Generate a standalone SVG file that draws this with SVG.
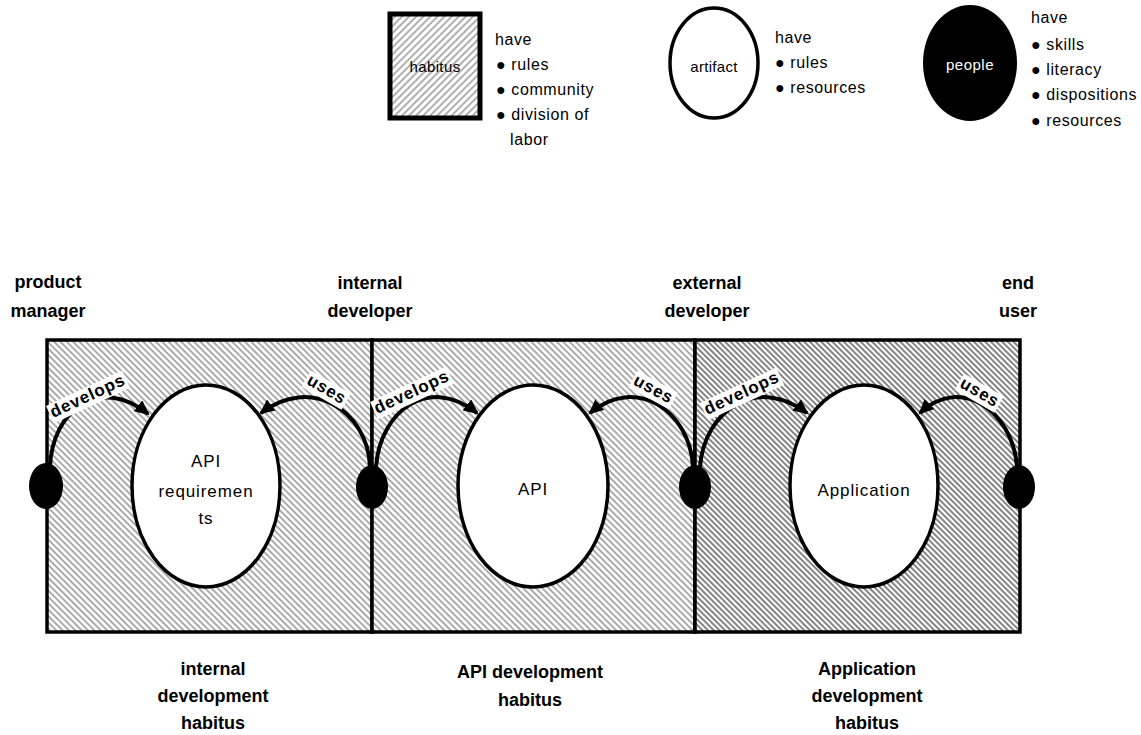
<svg xmlns="http://www.w3.org/2000/svg" width="1141" height="735" viewBox="0 0 1141 735">
  <defs>
    <style>
      text { font-family: "Liberation Sans", Arial, sans-serif; fill: #000; }
      .lbl { font-size: 18px; font-weight: bold; text-anchor: middle; }
      .leg { font-size: 16px; letter-spacing: 0.6px; }
      .art { font-size: 17px; letter-spacing: 0.9px; text-anchor: middle; }
      .rel { font-size: 17px; font-weight: bold; letter-spacing: 0.9px; text-anchor: middle; }
      .box { stroke: #000; stroke-width: 3.5; }
      .artifact { fill: #fff; stroke: #000; stroke-width: 3.5; }
      .person { fill: #000; }
      .arc { fill: none; stroke: #000; stroke-width: 4; marker-end: url(#head); }
      .tag { fill: #fff; }
    </style>
    <pattern id="hatchLight" patternUnits="userSpaceOnUse" width="4.5" height="4.5" patternTransform="rotate(45)">
      <rect width="4.5" height="4.5" fill="#ffffff"/>
      <rect width="4.5" height="1.9" fill="#a8a8a8"/>
    </pattern>
    <pattern id="hatchDark" patternUnits="userSpaceOnUse" width="4" height="4" patternTransform="rotate(45)">
      <rect width="4" height="4" fill="#ffffff"/>
      <rect width="4" height="2" fill="#858585"/>
    </pattern>
    <pattern id="hatchLegend" patternUnits="userSpaceOnUse" width="5" height="5" patternTransform="rotate(-45)">
      <rect width="5" height="5" fill="#ffffff"/>
      <rect width="5" height="2" fill="#b0b0b0"/>
    </pattern>
    <marker id="head" markerUnits="userSpaceOnUse" markerWidth="16" markerHeight="14" refX="13" refY="7" orient="auto">
      <path d="M0,0 L15,7 L0,14 z" fill="#000"/>
    </marker>
  </defs>

  <!-- legend -->
  <g id="legend-habitus">
    <rect x="390" y="14" width="90" height="104" fill="url(#hatchLegend)" stroke="#000" stroke-width="5"/>
    <text x="435" y="72" text-anchor="middle" style="font-size:15px;letter-spacing:0.4px">habitus</text>
    <text class="leg" x="495" y="45">have</text>
    <text class="leg" x="496" y="70">● rules</text>
    <text class="leg" x="496" y="95">● community</text>
    <text class="leg" x="496" y="120">● division of</text>
    <text class="leg" x="510" y="145">labor</text>
  </g>
  <g id="legend-artifact">
    <ellipse cx="714" cy="63" rx="44" ry="55" fill="#fff" stroke="#000" stroke-width="3.5"/>
    <text x="714" y="72" text-anchor="middle" style="font-size:15px;letter-spacing:0.3px">artifact</text>
    <text class="leg" x="775" y="43">have</text>
    <text class="leg" x="775" y="68">● rules</text>
    <text class="leg" x="775" y="93">● resources</text>
  </g>
  <g id="legend-people">
    <ellipse cx="970" cy="63" rx="47" ry="58" fill="#000"/>
    <text x="970" y="70" text-anchor="middle" style="font-size:15px;letter-spacing:0.5px;fill:#fff">people</text>
    <text class="leg" x="1031" y="23">have</text>
    <text class="leg" x="1031" y="50">● skills</text>
    <text class="leg" x="1031" y="75">● literacy</text>
    <text class="leg" x="1031" y="100">● dispositions</text>
    <text class="leg" x="1031" y="126">● resources</text>
  </g>

  <!-- habitus panels -->
  <g id="habitus-internal">
    <rect x="47" y="340" width="325" height="292" fill="url(#hatchLight)" class="box"/>
    <text class="lbl" x="213" y="675">internal</text>
    <text class="lbl" x="213" y="702">development</text>
    <text class="lbl" x="213" y="729">habitus</text>
  </g>
  <g id="habitus-api">
    <rect x="372" y="340" width="323" height="292" fill="url(#hatchLight)" class="box"/>
    <text class="lbl" x="530" y="678">API development</text>
    <text class="lbl" x="530" y="706">habitus</text>
  </g>
  <g id="habitus-application">
    <rect x="695" y="340" width="325" height="292" fill="url(#hatchDark)" class="box"/>
    <text class="lbl" x="867" y="675">Application</text>
    <text class="lbl" x="867" y="702">development</text>
    <text class="lbl" x="867" y="729">habitus</text>
  </g>

  <!-- artifacts -->
  <g id="artifact-api-requirements">
    <ellipse class="artifact" cx="206" cy="486" rx="74" ry="101"/>
    <text class="art" x="206" y="467">API</text>
    <text class="art" x="206" y="497">requiremen</text>
    <text class="art" x="206" y="524">ts</text>
  </g>
  <g id="artifact-api">
    <ellipse class="artifact" cx="533" cy="486" rx="75" ry="101"/>
    <text class="art" x="533" y="495">API</text>
  </g>
  <g id="artifact-application">
    <ellipse class="artifact" cx="864" cy="486" rx="74" ry="101"/>
    <text class="art" x="864" y="496">Application</text>
  </g>

  <!-- relations -->
  <g id="connectors">
    <path class="arc" d="M50,467 C52,410 100,375 148,414"/>
    <path class="arc" d="M370,467 C368,410 310,375 261,413"/>
    <path class="arc" d="M376,467 C380,410 430,375 477,413"/>
    <path class="arc" d="M693,467 C690,410 635,375 590,413"/>
    <path class="arc" d="M700,467 C704,410 758,375 807,413"/>
    <path class="arc" d="M1017,466 C1012,410 960,375 920,413"/>

    <g transform="translate(90,401) rotate(-25)">
      <rect class="tag" x="-42" y="-14" width="84" height="19"/>
      <text class="rel" x="0" y="0">develops</text>
    </g>
    <g transform="translate(324,394) rotate(30)">
      <rect class="tag" x="-23" y="-14" width="46" height="19"/>
      <text class="rel" x="0" y="0">uses</text>
    </g>
    <g transform="translate(414,397) rotate(-25)">
      <rect class="tag" x="-42" y="-14" width="84" height="19"/>
      <text class="rel" x="0" y="0">develops</text>
    </g>
    <g transform="translate(651,394) rotate(28)">
      <rect class="tag" x="-23" y="-14" width="46" height="19"/>
      <text class="rel" x="0" y="0">uses</text>
    </g>
    <g transform="translate(744,398) rotate(-25)">
      <rect class="tag" x="-42" y="-14" width="84" height="19"/>
      <text class="rel" x="0" y="0">develops</text>
    </g>
    <g transform="translate(977,397) rotate(30)">
      <rect class="tag" x="-23" y="-14" width="46" height="19"/>
      <text class="rel" x="0" y="0">uses</text>
    </g>
  </g>

  <!-- people -->
  <g id="person-product-manager">
    <ellipse class="person" cx="46" cy="486" rx="17" ry="23"/>
    <text class="lbl" x="48" y="288">product</text>
    <text class="lbl" x="48" y="317">manager</text>
  </g>
  <g id="person-internal-developer">
    <ellipse class="person" cx="372" cy="487" rx="16" ry="22"/>
    <text class="lbl" x="370" y="289">internal</text>
    <text class="lbl" x="370" y="317">developer</text>
  </g>
  <g id="person-external-developer">
    <ellipse class="person" cx="695" cy="487" rx="16" ry="22"/>
    <text class="lbl" x="707" y="289">external</text>
    <text class="lbl" x="707" y="317">developer</text>
  </g>
  <g id="person-end-user">
    <ellipse class="person" cx="1019" cy="487" rx="16" ry="22"/>
    <text class="lbl" x="1018" y="289">end</text>
    <text class="lbl" x="1018" y="317">user</text>
  </g>
</svg>
